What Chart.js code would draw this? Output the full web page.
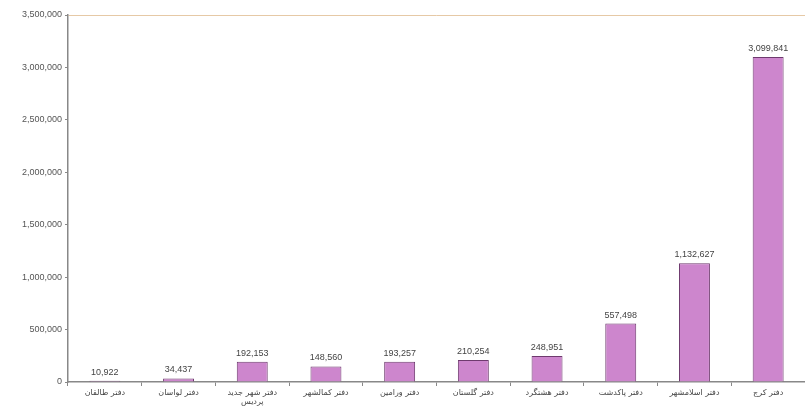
<!DOCTYPE html>
<html>
<head>
<meta charset="utf-8">
<script src="https://cdn.jsdelivr.net/npm/chart.js@4/dist/chart.umd.min.js"></script>
<style>
  html, body { margin: 0; padding: 0; background: #fff; }
  #wrap { width: 805px; height: 406px; position: relative; }
</style>
</head>
<body>
<div id="wrap"><canvas id="chart"></canvas></div>
<script>
// office names (x axis)
var categories = [
  'دفتر طالقان',
  'دفتر لواسان',
  ['دفتر شهر جدید', 'پردیس'],
  'دفتر کمالشهر',
  'دفتر ورامین',
  'دفتر گلستان',
  'دفتر هشتگرد',
  'دفتر پاکدشت',
  'دفتر اسلامشهر',
  'دفتر کرج'
];
var values = [10922, 34437, 192153, 148560, 193257, 210254, 248951, 557498, 1132627, 3099841];
var yMax = 3500000;
var yStep = 500000;

function fmt(v) {
  return v.toLocaleString('en-US');
}

// value labels above each bar
var valueLabels = {
  id: 'valueLabels',
  afterDatasetsDraw: function(chart) {
    var ctx = chart.ctx;
    var meta = chart.getDatasetMeta(0);
    ctx.save();
    ctx.font = '9px Arial, "Liberation Sans", sans-serif';
    ctx.fillStyle = '#444';
    ctx.textAlign = 'center';
    ctx.textBaseline = 'bottom';
    meta.data.forEach(function(bar, i) {
      ctx.fillText(fmt(values[i]), bar.x, bar.y - 4);
    });
    ctx.restore();
  }
};

new Chart(document.getElementById('chart'), {
  type: 'bar',
  data: {
    labels: categories,
    datasets: [{
      data: values,
      backgroundColor: '#cd86cd',
      borderColor: '#6e3a6e',
      borderWidth: 1,
      barPercentage: 0.42,
      categoryPercentage: 1.0
    }]
  },
  options: {
    responsive: true,
    maintainAspectRatio: false,
    animation: false,
    layout: { padding: { top: 15, right: 0, left: 0, bottom: 0 } },
    plugins: {
      legend: { display: false },
      tooltip: { enabled: false }
    },
    scales: {
      x: {
        offset: true,
        grid: {
          display: true,
          drawOnChartArea: false,
          offset: true,
          tickLength: 4,
          color: '#888'
        },
        border: { color: '#888', width: 1.5 },
        ticks: {
          color: '#444',
          font: { size: 8, family: '"DejaVu Sans", sans-serif' },
          maxRotation: 0,
          autoSkip: false,
          padding: 2
        },
        afterFit: function(scale) { scale.height = 24; }
      },
      y: {
        min: 0,
        max: yMax,
        ticks: {
          stepSize: yStep,
          color: '#555',
          font: { size: 9, family: 'Arial, "Liberation Sans", sans-serif' },
          padding: 3,
          callback: function(v) { return fmt(v); }
        },
        grid: {
          drawOnChartArea: true,
          tickLength: 3,
          color: function(c) {
            return c.tick && c.tick.value === yMax ? '#e6c9a6' : 'rgba(0,0,0,0)';
          },
          tickColor: '#888'
        },
        border: { color: '#888', width: 1.5 },
        afterFit: function(scale) { scale.width = 68; }
      }
    }
  },
  plugins: [valueLabels]
});
</script>
</body>
</html>
